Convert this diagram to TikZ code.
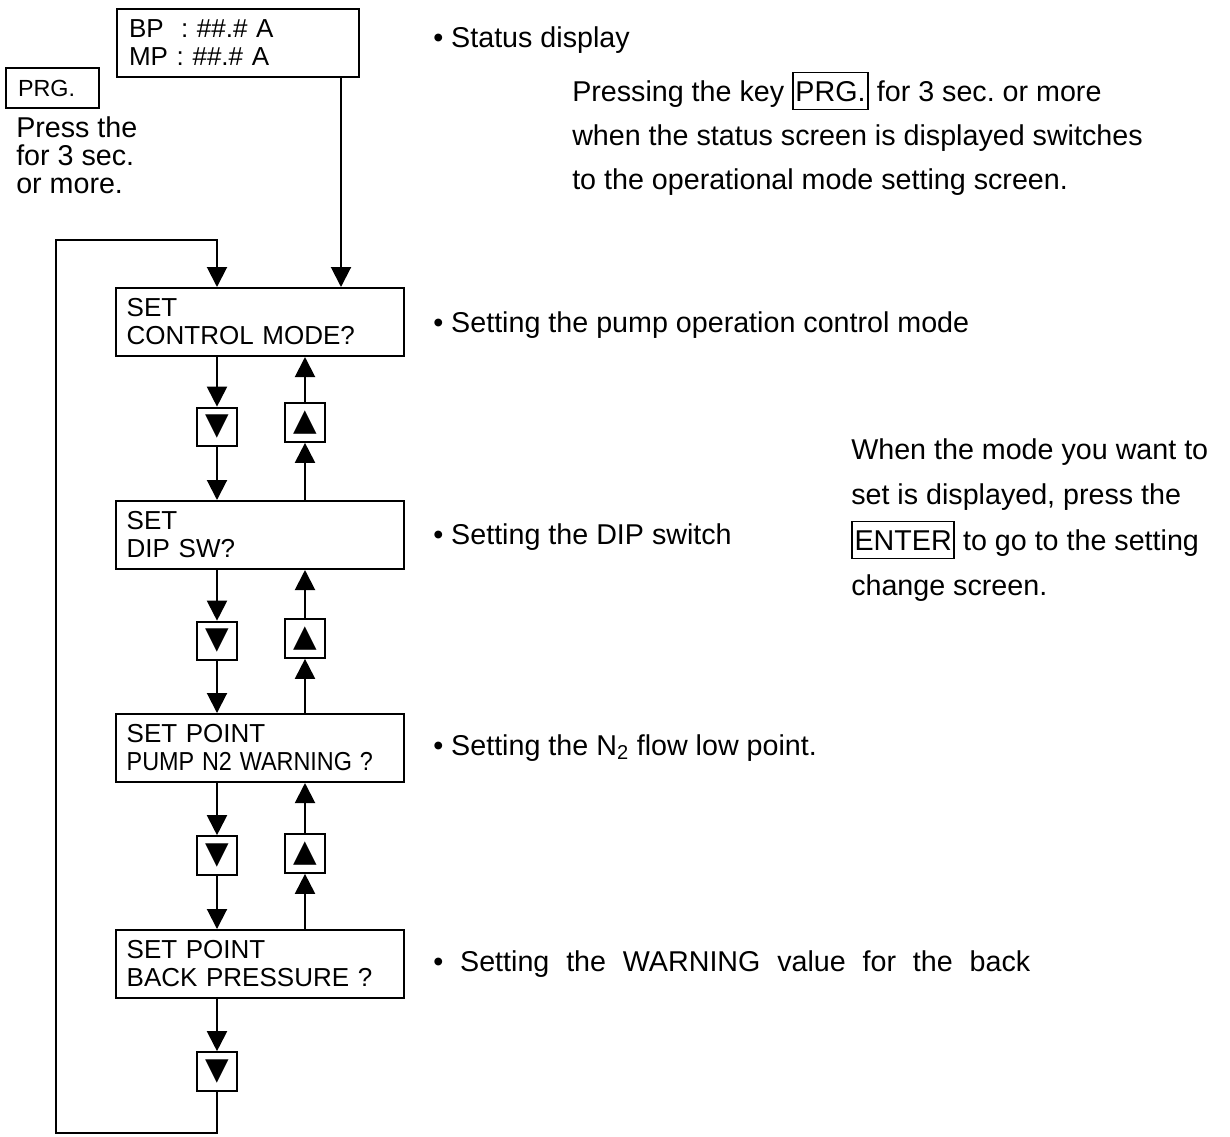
\documentclass[tikz,border=0pt]{standalone}
\usepackage{fontspec}
\usepackage{graphicx}
\setmainfont{Liberation Sans}
\newfontfamily\symfont{DejaVu Sans}
\usetikzlibrary{arrows.meta}
\frenchspacing
\newcommand{\keyfr}[1]{{\setlength{\fboxsep}{1.2pt}\setlength{\fboxrule}{1.3pt}\fbox{\rule[-0.21em]{0pt}{1.12em}#1}}}
\begin{document}
\begin{tikzpicture}[x=0.75pt,y=-0.75pt,
  scr/.style={draw, line width=1.5pt, anchor=north west, inner xsep=8pt, inner ysep=0pt,
    align=left, minimum height=51pt, font=\fontsize{19.5pt}{21pt}\selectfont},
  keyb/.style={draw, line width=1.5pt, inner sep=0pt, minimum width=30pt, minimum height=29pt,
    font=\symfont\fontsize{23pt}{23pt}\selectfont},
  rtxt/.style={anchor=base west, inner sep=0pt, font=\fontsize{21.5pt}{21.5pt}\selectfont},
  ltxt/.style={anchor=base west, inner sep=0pt, font=\fontsize{21.5pt}{21.5pt}\selectfont},
  arr/.style={-{Triangle[width=15pt,length=15pt]}, line width=1.5pt},
  ln/.style={line width=1.5pt}]
\useasboundingbox (0,0) rectangle (1230,1136);

% status screen
\node[scr, text width=163.5pt, inner xsep=9pt] (st) at (116,8) {BP\ \ : \#\#.\# A\\MP : \#\#.\# A};
% PRG key at left
\node[draw, line width=1.5pt, anchor=north west, inner xsep=9pt, inner ysep=0pt, text width=51.75pt,
  minimum height=30pt, align=left, font=\fontsize{17.5pt}{17.5pt}\selectfont] (prg) at (5,67) {PRG.};
\node[ltxt] (pl1) at (16,137) {Press the};
\node[ltxt] (pl2) at (16,165) {for 3 sec.};
\node[ltxt] (pl3) at (16,193) {or more.};

% setting screens
\node[scr, text width=200pt] (ctrl) at (115,287) {SET\\CONTROL MODE?};
\node[scr, text width=200pt] (dip)  at (115,500) {SET\\DIP SW?};
\node[scr, text width=200pt] (n2)   at (115,713) {SET POINT\\\scalebox{0.9}[1]{PUMP N2 WARNING ?}};
\node[scr, text width=200pt] (back) at (115,929) {SET POINT\\BACK PRESSURE ?};

% keys
\node[keyb] (d1) at (217,427) {▼};
\node[keyb] (u1) at (305,422.5) {▲};
\node[keyb] (d2) at (217,641) {▼};
\node[keyb] (u2) at (305,638.5) {▲};
\node[keyb] (d3) at (217,855.5) {▼};
\node[keyb] (u3) at (305,853.5) {▲};
\node[keyb] (d4) at (217,1071.5) {▼};

% connectors
\coordinate (rx) at (341,0);
\draw[arr] (st.south -| rx) -- (ctrl.north -| rx);
\coordinate (lb) at (56,1133);
\coordinate (lt) at (56,240);
\draw[arr] (d4.south) |- (lb) -- (lt) -| (ctrl.north -| d4.south);

\draw[arr] (ctrl.south -| d1.north) -- (d1.north);
\draw[arr] (d1.south) -- (dip.north -| d1.south);
\draw[arr] (dip.north -| u1.south) -- (u1.south);
\draw[arr] (u1.north) -- (ctrl.south -| u1.north);

\draw[arr] (dip.south -| d2.north) -- (d2.north);
\draw[arr] (d2.south) -- (n2.north -| d2.south);
\draw[arr] (n2.north -| u2.south) -- (u2.south);
\draw[arr] (u2.north) -- (dip.south -| u2.north);

\draw[arr] (n2.south -| d3.north) -- (d3.north);
\draw[arr] (d3.south) -- (back.north -| d3.south);
\draw[arr] (back.north -| u3.south) -- (u3.south);
\draw[arr] (u3.north) -- (n2.south -| u3.north);

\draw[arr] (back.south -| d4.north) -- (d4.north);

% right-hand texts
\node[rtxt] (t1) at (433,47) {• Status display};
\node[rtxt] (p1) at (572,101) {Pressing the key \keyfr{PRG.} for 3 sec. or more};
\node[rtxt] (p2) at (572,145) {when the status screen is displayed switches};
\node[rtxt] (p3) at (572,189) {to the operational mode setting screen.};
\node[rtxt] (t2) at (433,332) {• Setting the pump operation control mode};
\node[rtxt] (t3) at (433,544) {• Setting the DIP switch};
\node[rtxt] (w1) at (851,459) {When the mode you want to};
\node[rtxt] (w2) at (851,504) {set is displayed, press the};
\node[rtxt] (w3) at (851,550) {\keyfr{ENTER} to go to the setting};
\node[rtxt] (w4) at (851,595) {change screen.};
\node[rtxt] (t4) at (433,755) {• Setting the N\textsubscript{2} flow low point.};
\node[rtxt] (t5) at (433,971) {\makebox[447.75pt][s]{• Setting the WARNING value for the back}};
\end{tikzpicture}
\end{document}
